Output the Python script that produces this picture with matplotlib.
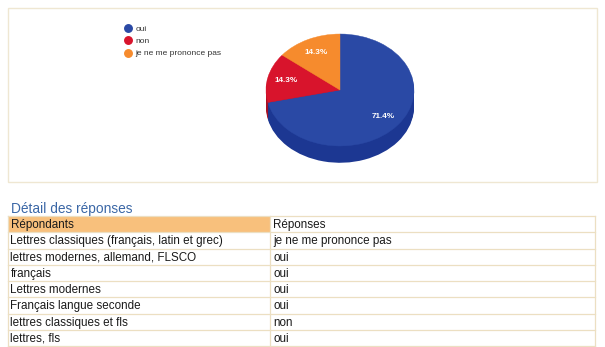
import numpy as np
import matplotlib
matplotlib.use("Agg")
import matplotlib.pyplot as plt
from matplotlib.lines import Line2D
from matplotlib.patches import Rectangle

plt.rcParams['font.family'] = ['Liberation Sans', 'DejaVu Sans']

# data
answers = ['oui', 'non', 'je ne me prononce pas']
counts = [5, 1, 1]
top_colors = ['#2a49a5', '#d8142c', '#f68b2d']
side_colors = ['#1c3792', '#a80f22', '#c86a1e']

title = 'Détail des réponses'
header = ['Répondants', 'Réponses']
respondents = [
    'Lettres classiques (français, latin et grec)',
    'lettres modernes, allemand, FLSCO',
    'français',
    'Lettres modernes',
    'Français langue seconde',
    'lettres classiques et fls',
    'lettres, fls',
]
responses = ['je ne me prononce pas', 'oui', 'oui', 'oui', 'oui', 'non', 'oui']

W, H = 605, 347
fig = plt.figure(figsize=(W / 100, H / 100), dpi=100)
fig.patch.set_facecolor('white')

# page axes in pixel coordinates
ax = fig.add_axes([0, 0, 1, 1])
ax.set_xlim(0, W)
ax.set_ylim(H, 0)
ax.axis('off')

line_col = '#ecdfc2'

# chart panel frame
ax.add_patch(Rectangle((8, 8), 589, 174, fill=False, edgecolor='#efe7d2', lw=1))

# pie (elliptical, with a little depth)
pax = fig.add_axes([260 / W, 1 - 170 / H, 160 / W, 145 / H])
depth = 0.30
for d in np.linspace(depth, 0.02, 14):
    wedges, _ = pax.pie(counts, colors=side_colors, startangle=90, counterclock=False,
                        center=(0, -d), wedgeprops=dict(linewidth=0))
wedges, _, autotexts = pax.pie(counts, colors=top_colors, startangle=90, counterclock=False,
                               autopct='%1.1f%%', pctdistance=0.75,
                               textprops=dict(color='white', fontsize=5.9, fontweight='bold'))
for w in wedges:
    w.set_edgecolor(w.get_facecolor())
    w.set_linewidth(0.3)
pax.set_aspect('auto')
pax.set_xlim(-1.081, 1.081)
pax.set_ylim(-1.429, 1.161)
pax.axis('off')

# legend
handles = [Line2D([], [], marker='o', ls='none', markersize=5.4,
                  markerfacecolor=c, markeredgecolor=c) for c in top_colors]
fig.legend(handles, answers, loc='upper left', bbox_to_anchor=(120.5 / W, 1 - 21.5 / H),
           frameon=False, fontsize=6.0, handlelength=1.0, handletextpad=0.4,
           labelspacing=0.55, borderaxespad=0, labelcolor='#333333')

# table
ax.text(11, 213, title, fontsize=9.9, color='#3b67a6', va='baseline')

x0, xm, x1 = 8, 270, 595
top = 216
row_h = 16.25
n_rows = len(respondents) + 1
ax.add_patch(Rectangle((x0, top), xm - x0, row_h, facecolor='#f8c07c', edgecolor='none'))
for i in range(n_rows + 1):
    y = top + i * row_h
    ax.plot([x0, x1], [y, y], color=line_col, lw=0.9)
for x in (x0, xm, x1):
    ax.plot([x, x], [top, top + n_rows * row_h], color=line_col, lw=0.9)

rows = [header] + [[a, b] for a, b in zip(respondents, responses)]
for i, (a, b) in enumerate(rows):
    yb = top + (i + 1) * row_h - 4.2
    ax.text(10.5, yb, a, fontsize=8.4, color='#1a1a1a', va='baseline')
    ax.text(273.5, yb, b, fontsize=8.4, color='#1a1a1a', va='baseline')

fig.savefig('out.png', dpi=100, facecolor='white')
